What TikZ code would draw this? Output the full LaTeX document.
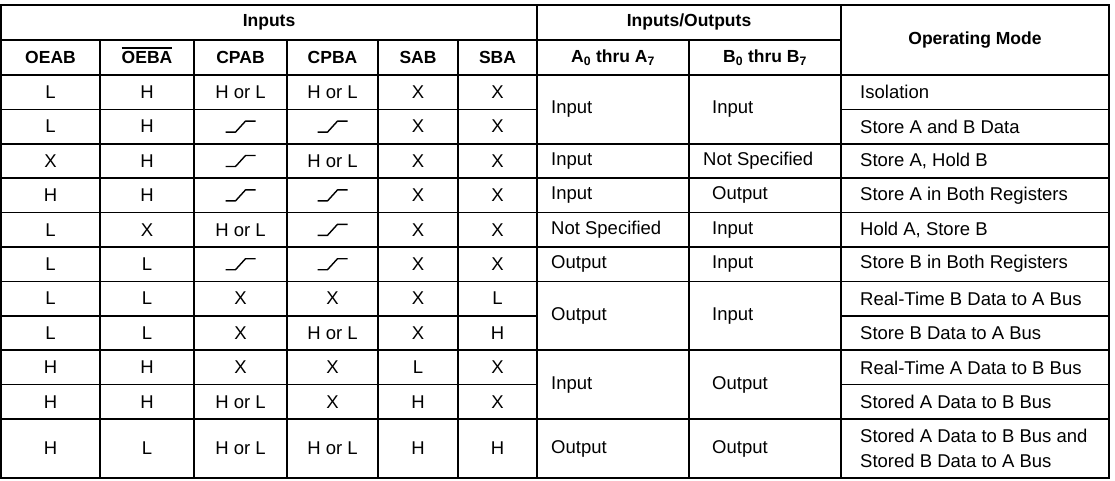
\documentclass[tikz,border=0pt]{standalone}
\usepackage{fontspec}
\setmainfont{Liberation Sans}
\begin{document}
\begin{tikzpicture}[x=1pt,y=-1pt,
  grid/.style={line width=1.7pt,black},
  cell/.style={font=\fontsize{18.5}{20}\selectfont,inner sep=0pt,anchor=center},
  hcell/.style={font=\fontsize{17.5}{20}\selectfont\bfseries,inner sep=0pt,anchor=center},
  lcell/.style={font=\fontsize{18.5}{20}\selectfont,inner sep=0pt,anchor=west},
  edgesym/.style={line width=1.4pt,line join=round}]
\useasboundingbox (0,0) rectangle (1115,480);
% column x positions
\def\cA{1}\def\cB{100}\def\cC{194}\def\cD{287}\def\cE{378}\def\cF{458}\def\cG{537}\def\cH{689}\def\cI{841}\def\cJ{1109}
% row y positions
\def\rT{5}\def\rH{40}\def\rS{75}
% outer frame
\draw[grid] (\cA,\rT) rectangle (\cJ,478);
% header lines
\draw[grid] (\cA,\rH) -- (\cI,\rH);
\draw[grid] (\cA,\rS) -- (\cJ,\rS);
\draw[grid] (\cG,\rT) -- (\cG,478);
\draw[grid] (\cI,\rT) -- (\cI,478);
\foreach \x in {\cB,\cC,\cD,\cE,\cF,\cH} \draw[grid] (\x,\rH) -- (\x,478);
% row boundaries
\foreach \i/\full in {1/0,2/1,3/1,4/1,5/1,6/1,7/0,8/1,9/0,10/1} {
  \pgfmathsetmacro{\yy}{75+34.4*\i}
  \ifnum\full=1
    \draw[grid] (\cA,\yy) -- (\cJ,\yy);
  \else
    \draw[grid] (\cA,\yy) -- (\cG,\yy);
    \draw[grid] (\cI,\yy) -- (\cJ,\yy);
  \fi
}
% headers
\node[hcell] (hin) at (269,22) {Inputs};
\node[hcell] (hio) at (689,22) {Inputs/Outputs};
\node[hcell] (hop) at (975,40) {Operating Mode};
\node[hcell] (h1) at (50.5,57.5) {OEAB};
\node[hcell] (h2) at (147,57.5) {OEBA};
\draw[line width=1.3pt] ([yshift=3pt]h2.north west) -- ([yshift=3pt]h2.north east);
\node[hcell] (h3) at (240.5,57.5) {CPAB};
\node[hcell] (h4) at (332.5,57.5) {CPBA};
\node[hcell] (h5) at (418,57.5) {SAB};
\node[hcell] (h6) at (497.5,57.5) {SBA};
\node[hcell] (h7) at (613,57.5) {A\textsubscript{0} thru A\textsubscript{7}};
\node[hcell] (h8) at (765,57.5) {B\textsubscript{0} thru B\textsubscript{7}};
% rising-edge symbol
\newcommand{\redge}[3]{\draw[edgesym] (#1-15,#2+5.5) -- (#1-5,#2+5.5) -- (#1+5,#2-5.5) -- (#1+15,#2-5.5); \coordinate (#3) at (#1,#2);}
% data rows
\foreach \i/\a/\b/\c/\d/\e/\f in {
 1/L/H/H or L/H or L/X/X,
 2/L/H/E/E/X/X,
 3/X/H/E/H or L/X/X,
 4/H/H/E/E/X/X,
 5/L/X/H or L/E/X/X,
 6/L/L/E/E/X/X,
 7/L/L/X/X/X/L,
 8/L/L/X/H or L/X/H,
 9/H/H/X/X/L/X,
 10/H/H/H or L/X/H/X,
 11/H/L/H or L/H or L/H/H} {
  \pgfmathsetmacro{\yc}{\i<11 ? 75+34.4*(\i-0.5) : 448.5}
  \node[cell] (r\i c1) at (50.5,\yc) {\a};
  \node[cell] (r\i c2) at (147,\yc) {\b};
  \if E\c \redge{240.5}{\yc}{r\i c3}\else \node[cell] (r\i c3) at (240.5,\yc) {\c};\fi
  \if E\d \redge{332.5}{\yc}{r\i c4}\else \node[cell] (r\i c4) at (332.5,\yc) {\d};\fi
  \node[cell] (r\i c5) at (418,\yc) {\e};
  \node[cell] (r\i c6) at (497.5,\yc) {\f};
}
% A / B columns
\node[lcell] (a12) at (551,109.4) {Input};
\node[lcell] (b12) at (712,109.4) {Input};
\node[lcell] (a3) at (551,161) {Input};
\node[lcell] (b3) at (703,161) {Not Specified};
\node[lcell] (a4) at (551,195.4) {Input};
\node[lcell] (b4) at (712,195.4) {Output};
\node[lcell] (a5) at (551,229.8) {Not Specified};
\node[lcell] (b5) at (712,229.8) {Input};
\node[lcell] (a6) at (551,264.2) {Output};
\node[lcell] (b6) at (712,264.2) {Input};
\node[lcell] (a78) at (551,315.8) {Output};
\node[lcell] (b78) at (712,315.8) {Input};
\node[lcell] (a910) at (551,384.6) {Input};
\node[lcell] (b910) at (712,384.6) {Output};
\node[lcell] (a11) at (551,448.5) {Output};
\node[lcell] (b11) at (712,448.5) {Output};
% operating mode
\foreach \i/\t in {1/Isolation,2/Store A and B Data,3/{Store A, Hold B},4/Store A in Both Registers,5/{Hold A, Store B},6/Store B in Both Registers,7/Real-Time B Data to A Bus,8/Store B Data to A Bus,9/Real-Time A Data to B Bus,10/Stored A Data to B Bus} {
  \pgfmathsetmacro{\yc}{75+34.4*(\i-0.5)}
  \node[lcell] (m\i) at (860,\yc) {\t};
}
\node[lcell,align=left,font=\fontsize{18.5}{25}\selectfont] (m11) at (860,448.5) {Stored A Data to B Bus and\\Stored B Data to A Bus};
\end{tikzpicture}
\end{document}
